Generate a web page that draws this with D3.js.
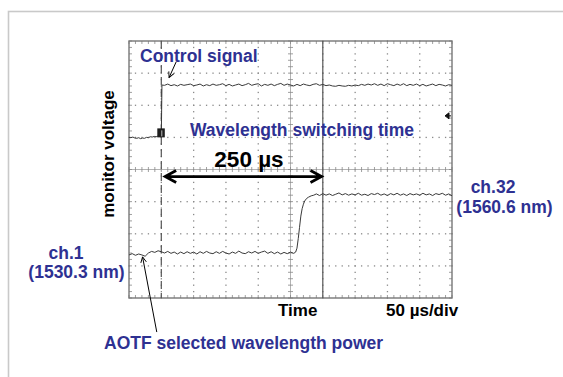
<!DOCTYPE html>
<html>
<head>
<meta charset="utf-8">
<script src="https://cdn.jsdelivr.net/npm/d3@7"></script>
<style>
  body { margin: 0; background: #fff; }
  svg { display: block; font-family: "Liberation Sans", Arial, sans-serif; font-weight: bold; }
</style>
</head>
<body>
<div id="chart"></div>
<script>
// time in µs (50 µs/div, 10 div), level in divisions (8 div, 0 = centre)
const timeDomain = [0, 500];
const levelDomain = [-4, 4];

// control signal trace: [time, level]
const controlSignal = [
  [0,1.00],[3,0.99],[6,1.01],[9,0.98],[12,0.97],[15,0.99],[18,0.96],[21,0.98],[24,0.97],
  [27,1.00],[30,0.99],[33,1.02],[36,1.01],[39,1.03],[42,1.02],[45,1.04],[48,1.03],[50,1.03],
  [51,2.63],[55,2.62],[60,2.66],[65,2.61],[70,2.64],[75,2.60],[80,2.65],[85,2.62],[90,2.64],
  [95,2.66],[100,2.61],[105,2.63],[110,2.66],[115,2.60],[120,2.64],[125,2.61],[130,2.66],
  [135,2.62],[140,2.64],[145,2.67],[150,2.61],[155,2.65],[160,2.60],[165,2.63],[170,2.66],
  [175,2.61],[180,2.64],[185,2.68],[190,2.62],[195,2.65],[200,2.67],[205,2.60],[210,2.65],
  [215,2.62],[220,2.66],[225,2.61],[230,2.65],[235,2.68],[240,2.62],[245,2.66],[250,2.63],
  [255,2.60],[260,2.65],[265,2.61],[270,2.66],[275,2.63],[280,2.61],[285,2.65],[290,2.67],
  [295,2.62],[300,2.65],[305,2.61],[310,2.63],[315,2.60],[320,2.59],[325,2.62],[330,2.60],
  [335,2.59],[340,2.62],[345,2.60],[350,2.63],[355,2.61],[360,2.65],[365,2.62],[370,2.66],
  [375,2.63],[380,2.67],[385,2.62],[390,2.66],[395,2.61],[400,2.67],[405,2.64],[410,2.61],
  [415,2.66],[420,2.62],[425,2.67],[430,2.61],[435,2.65],[440,2.62],[445,2.66],[450,2.61],
  [455,2.65],[460,2.60],[465,2.63],[470,2.66],[475,2.61],[480,2.65],[485,2.63],[490,2.60],
  [495,2.64],[500,2.62]
];

// AOTF selected wavelength power trace: [time, level]
const aotfPower = [
  [0,-2.66],[5,-2.62],[10,-2.67],[15,-2.63],[20,-2.66],[25,-2.70],[30,-2.60],[35,-2.55],
  [40,-2.58],[45,-2.53],[50,-2.56],[55,-2.60],[60,-2.55],[65,-2.61],[70,-2.57],[75,-2.63],
  [80,-2.57],[85,-2.62],[90,-2.56],[95,-2.61],[100,-2.57],[105,-2.63],[110,-2.56],[115,-2.61],
  [120,-2.55],[125,-2.60],[130,-2.62],[135,-2.56],[140,-2.61],[145,-2.55],[150,-2.60],
  [155,-2.63],[160,-2.57],[165,-2.61],[170,-2.54],[175,-2.60],[180,-2.62],[185,-2.56],
  [190,-2.60],[195,-2.55],[200,-2.61],[205,-2.57],[210,-2.54],[215,-2.61],[220,-2.56],
  [225,-2.62],[230,-2.57],[235,-2.63],[240,-2.58],[245,-2.62],[250,-2.57],[255,-2.61],
  [258,-2.57],[260,-2.45],[262,-2.15],[264,-1.80],[266,-1.45],[268,-1.22],[270,-1.08],
  [272,-0.98],[275,-0.90],[278,-0.86],[282,-0.82],[286,-0.80],[290,-0.76],[295,-0.81],
  [300,-0.75],[305,-0.80],[310,-0.76],[315,-0.81],[320,-0.77],[325,-0.73],[330,-0.79],
  [335,-0.75],[340,-0.80],[345,-0.76],[350,-0.79],[355,-0.74],[360,-0.80],[365,-0.77],
  [370,-0.81],[375,-0.75],[380,-0.78],[385,-0.74],[390,-0.80],[395,-0.76],[400,-0.81],
  [405,-0.75],[410,-0.79],[415,-0.74],[420,-0.80],[425,-0.76],[430,-0.81],[435,-0.75],
  [440,-0.79],[445,-0.76],[450,-0.80],[455,-0.74],[460,-0.79],[465,-0.76],[470,-0.81],
  [475,-0.75],[480,-0.78],[485,-0.74],[490,-0.80],[495,-0.76],[500,-0.82]
];

const triggerTime = 50;      // dashed line
const cursorTime = 300;      // solid cursor line
const triggerMarkLevel = 1.0;
const offsetMarkLevel = 1.67;
const switchArrow = { from: 56, to: 298, level: -0.22 };

const width = 563, height = 377;

const svg = d3.select("#chart").append("svg")
  .attr("width", width)
  .attr("height", height);

// light frame of the slide
svg.append("rect")
  .attr("x", 8.5).attr("y", 11.5)
  .attr("width", 600).attr("height", 400)
  .attr("fill", "none")
  .attr("stroke", "#c9c9c9")
  .attr("stroke-width", 1.6);

const x = d3.scaleLinear().domain(timeDomain).range([129, 452]);
const y = d3.scaleLinear().domain(levelDomain).range([298, 41]);

const majorT = d3.range(0, 501, 50);
const majorV = d3.range(-4, 5, 1);
const minorT = d3.range(0, 501, 10);
const minorV = d3.range(-4, 4.01, 0.2);

const grid = svg.append("g");

// dotted grid on the inner divisions
majorT.filter(t => t > 0 && t < 500 && t !== 250).forEach(t => {
  grid.selectAll(null).data(minorV).enter().append("rect")
    .attr("x", x(t) - 0.6).attr("y", v => y(v) - 0.6)
    .attr("width", 1.3).attr("height", 1.3)
    .attr("fill", "#8a8a8a");
});
majorV.filter(v => v > -4 && v < 4 && v !== 0).forEach(v => {
  grid.selectAll(null).data(minorT).enter().append("rect")
    .attr("x", t => x(t) - 0.6).attr("y", y(v) - 0.6)
    .attr("width", 1.3).attr("height", 1.3)
    .attr("fill", "#8a8a8a");
});

// centre cross with minor ticks
grid.append("line")
  .attr("x1", x(0)).attr("x2", x(500))
  .attr("y1", y(0)).attr("y2", y(0))
  .attr("stroke", "#a0a0a0").attr("stroke-width", 0.8);
grid.append("line")
  .attr("x1", x(250)).attr("x2", x(250))
  .attr("y1", y(-4)).attr("y2", y(4))
  .attr("stroke", "#a0a0a0").attr("stroke-width", 0.8);
grid.selectAll(null).data(minorT).enter().append("line")
  .attr("x1", t => x(t)).attr("x2", t => x(t))
  .attr("y1", y(0) - 2.5).attr("y2", y(0) + 2.5)
  .attr("stroke", "#888").attr("stroke-width", 0.8);
grid.selectAll(null).data(minorV).enter().append("line")
  .attr("x1", x(250) - 2.5).attr("x2", x(250) + 2.5)
  .attr("y1", v => y(v)).attr("y2", v => y(v))
  .attr("stroke", "#888").attr("stroke-width", 0.8);

// border ticks
grid.selectAll(null).data(minorT).enter().append("line")
  .attr("x1", t => x(t)).attr("x2", t => x(t))
  .attr("y1", y(4)).attr("y2", y(4) + 3)
  .attr("stroke", "#888").attr("stroke-width", 0.8);
grid.selectAll(null).data(minorT).enter().append("line")
  .attr("x1", t => x(t)).attr("x2", t => x(t))
  .attr("y1", y(-4)).attr("y2", y(-4) - 3)
  .attr("stroke", "#888").attr("stroke-width", 0.8);
grid.selectAll(null).data(minorV).enter().append("line")
  .attr("x1", x(0)).attr("x2", x(0) + 3)
  .attr("y1", v => y(v)).attr("y2", v => y(v))
  .attr("stroke", "#888").attr("stroke-width", 0.8);
grid.selectAll(null).data(minorV).enter().append("line")
  .attr("x1", x(500)).attr("x2", x(500) - 3)
  .attr("y1", v => y(v)).attr("y2", v => y(v))
  .attr("stroke", "#888").attr("stroke-width", 0.8);

grid.append("rect")
  .attr("x", x(0)).attr("y", y(4))
  .attr("width", x(500) - x(0)).attr("height", y(-4) - y(4))
  .attr("fill", "none")
  .attr("stroke", "#777").attr("stroke-width", 1.4);

// trigger (dashed) and cursor (solid) lines
svg.append("line")
  .attr("x1", x(triggerTime)).attr("x2", x(triggerTime))
  .attr("y1", y(4)).attr("y2", y(-4))
  .attr("stroke", "#555").attr("stroke-width", 1.2)
  .attr("stroke-dasharray", "8,4");
svg.append("line")
  .attr("x1", x(cursorTime)).attr("x2", x(cursorTime))
  .attr("y1", y(4)).attr("y2", y(-4))
  .attr("stroke", "#555").attr("stroke-width", 1.2);

// traces
const line = d3.line().x(d => x(d[0])).y(d => y(d[1]));

svg.append("path")
  .datum(controlSignal)
  .attr("d", line)
  .attr("fill", "none")
  .attr("stroke", "#3a3a3a")
  .attr("stroke-width", 1);

svg.append("path")
  .datum(aotfPower)
  .attr("d", line)
  .attr("fill", "none")
  .attr("stroke", "#3a3a3a")
  .attr("stroke-width", 1);

// trigger marker block
svg.append("rect")
  .attr("x", x(triggerTime) - 4).attr("y", y(triggerMarkLevel) - 9)
  .attr("width", 7.5).attr("height", 9)
  .attr("fill", "#1e1e1e");
svg.append("line")
  .attr("x1", x(triggerTime) + 0.5).attr("x2", x(triggerTime) + 0.5)
  .attr("y1", y(triggerMarkLevel) - 7).attr("y2", y(triggerMarkLevel) - 1)
  .attr("stroke", "#bbb").attr("stroke-width", 1);

// channel offset marker on the right
const om = { x: x(500) - 7, y: y(offsetMarkLevel) };
svg.append("path")
  .attr("d", `M${om.x},${om.y} L${om.x + 4},${om.y - 3} L${om.x + 4},${om.y + 3} Z M${om.x + 4},${om.y} L${om.x + 6},${om.y}`)
  .attr("fill", "#111")
  .attr("stroke", "#111")
  .attr("stroke-width", 1);

// 250 µs double arrow
const ay = y(switchArrow.level);
const ax1 = x(switchArrow.from), ax2 = x(switchArrow.to);
svg.append("path")
  .attr("d", `M${ax1},${ay} L${ax2},${ay} M${ax1 + 11},${ay - 6} L${ax1},${ay} L${ax1 + 11},${ay + 6} M${ax2 - 11},${ay - 6} L${ax2},${ay} L${ax2 - 11},${ay + 6}`)
  .attr("fill", "none")
  .attr("stroke", "#000")
  .attr("stroke-width", 2.8)
  .attr("stroke-linejoin", "miter");

// thin pointer arrows
svg.append("defs").append("marker")
  .attr("id", "tip")
  .attr("viewBox", "0 0 10 10")
  .attr("refX", 9).attr("refY", 5)
  .attr("markerWidth", 7).attr("markerHeight", 7)
  .attr("orient", "auto")
  .append("path")
  .attr("d", "M1,1 L9,5 L1,9")
  .attr("fill", "none")
  .attr("stroke", "#000")
  .attr("stroke-width", 1.3);

const pointers = [
  { from: [73, 3.35], to: [62, 2.86] },
  { from: [43, -5.06], to: [21, -2.72] }
];
svg.selectAll(null).data(pointers).enter().append("line")
  .attr("x1", d => x(d.from[0])).attr("y1", d => y(d.from[1]))
  .attr("x2", d => x(d.to[0])).attr("y2", d => y(d.to[1]))
  .attr("stroke", "#000")
  .attr("stroke-width", 1)
  .attr("marker-end", "url(#tip)");

// labels
const blue = "#2e3192";
const labels = [
  { text: "Control signal", x: 140, y: 61.5, size: 17.5, fill: blue, anchor: "start" },
  { text: "Wavelength switching time", x: 190, y: 136, size: 17.5, fill: blue, anchor: "start" },
  { text: "250 µs", x: 249, y: 166.5, size: 22.5, fill: "#000", anchor: "middle" },
  { text: "ch.32", x: 493, y: 193.3, size: 17.5, fill: blue, anchor: "middle" },
  { text: "(1560.6 nm)", x: 504.5, y: 213.3, size: 17.5, fill: blue, anchor: "middle" },
  { text: "ch.1", x: 66, y: 259, size: 17.5, fill: blue, anchor: "middle" },
  { text: "(1530.3 nm)", x: 76.5, y: 277.7, size: 17.5, fill: blue, anchor: "middle" },
  { text: "Time", x: 278, y: 315.7, size: 17, fill: "#000", anchor: "start" },
  { text: "50 µs/div", x: 386, y: 316, size: 17, fill: "#000", anchor: "start" },
  { text: "AOTF selected wavelength power", x: 104, y: 348.5, size: 17.5, fill: blue, anchor: "start" }
];

svg.selectAll(null).data(labels).enter().append("text")
  .attr("x", d => d.x).attr("y", d => d.y)
  .attr("font-size", d => d.size + "px")
  .attr("fill", d => d.fill)
  .attr("text-anchor", d => d.anchor)
  .text(d => d.text);

svg.append("text")
  .attr("transform", "translate(113.5,154) rotate(-90)")
  .attr("text-anchor", "middle")
  .attr("font-size", "17px")
  .attr("fill", "#000")
  .text("monitor voltage");
</script>
</body>
</html>
